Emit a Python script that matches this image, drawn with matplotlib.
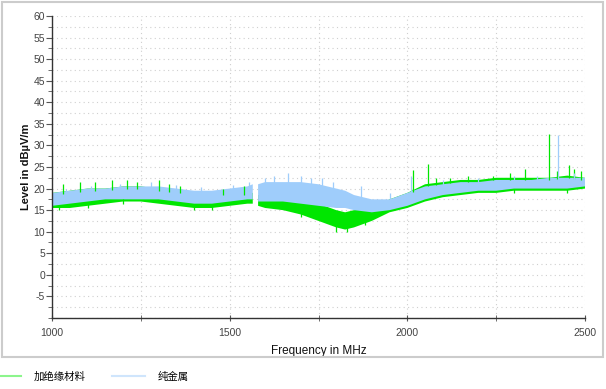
import numpy as np
import matplotlib
matplotlib.use("Agg")
import matplotlib.pyplot as plt
from matplotlib.lines import Line2D
from matplotlib.patches import Rectangle
from matplotlib.ticker import MultipleLocator

plt.rcParams['font.family'] = ['Liberation Sans', 'Noto Sans CJK SC', 'DejaVu Sans']
plt.rcParams['axes.unicode_minus'] = False

# ---- data ----
freq = [1000, 1050, 1100, 1150, 1200, 1250, 1300, 1350, 1400, 1450, 1500, 1550, 1565,
        1572,
        1580, 1600, 1650, 1700, 1750, 1800, 1825, 1850, 1900, 1950, 2000, 2050, 2100,
        2150, 2200, 2250, 2300, 2350, 2400, 2450, 2500]
nan = float('nan')
green_low = [15.5, 15.5, 16, 16.5, 17, 17, 16.5, 16, 15.5, 15.5, 16, 16.5, 16.5,
             nan,
             16, 15.5, 15, 14, 12.5, 11, 10.5, 11, 12.5, 14.5, 15.5, 17, 18,
             18.5, 19, 19, 19.5, 19.5, 19.5, 19.5, 20]
green_high = [19, 19.5, 20, 20, 20.5, 20.5, 20, 19.5, 19, 19, 19, 19, 19,
              nan,
              18.5, 18.5, 18, 17.5, 16.5, 15, 14.5, 15, 15.5, 17.5, 19, 21, 21.5,
              22, 22, 22.5, 22.5, 22.5, 22.5, 23, 22.5]
blue_low = [16, 16.5, 17, 17.5, 17.5, 17.5, 17.5, 17, 16.5, 16.5, 17, 17.5, 17.5,
            nan,
            17, 17, 17, 16.5, 16, 15.5, 15.5, 15, 14.5, 15, 16, 17.5, 18.5,
            19, 19.5, 19.5, 20, 20, 20, 20, 20.5]
blue_high = [19, 19.5, 20, 20, 20.5, 20.5, 20.5, 20, 19.5, 19.5, 20, 20.5, 21,
             nan,
             21, 21.5, 21.5, 21.5, 21, 20, 19.5, 18.5, 17.5, 17.5, 19, 20.5, 21,
             21.5, 21.5, 22, 22, 22, 22.5, 22.5, 22.5]

green_spike_f = [1030, 1080, 1120, 1170, 1210, 1240, 1300, 1330, 1360, 1480, 1540,
                 2016, 2058, 2080, 2120, 2170, 2240, 2290, 2330, 2398, 2420, 2455, 2470, 2490]
green_spike_top = [21, 21.5, 21.5, 22, 22, 21.5, 22, 21, 20.5, 20, 20.5,
                   24.2, 25.6, 22.5, 22.5, 23, 23, 23.5, 24.5, 32.6, 24, 25.5, 24.5, 24]
green_dip_f = [1020, 1100, 1200, 1400, 1450, 1700, 1800, 1830, 1880, 2300, 2450]
green_dip_bottom = [15, 15.5, 16.5, 15, 15, 13.5, 10, 10, 11.5, 19, 19]
blue_spike_f = [1040, 1110, 1190, 1280, 1350, 1420, 1510, 1555, 1600, 1625, 1665, 1700,
                1730, 1760, 1790, 1870, 1950, 2010, 2100, 2200, 2300, 2365, 2424, 2470]
blue_spike_top = [19.8, 20.7, 21, 21.5, 20.8, 20.3, 20.8, 21.5, 22.5, 23, 23.5, 23,
                  22.5, 22.5, 21.5, 20.5, 19, 23, 22, 22.5, 23, 23, 32.4, 23.5]

series_names = ['加绝缘材料', '纯金属']
green = '#00e600'
blue = '#9fcdfb'

fig = plt.figure(figsize=(6.06, 3.89), dpi=100)
ax = fig.add_axes([52/606, 1-318/389, (585-52)/606, (318-16)/389])

fa = np.array(freq, float)
ok = ~np.isnan(np.array(green_high, float))


def edge(values, at):
    v = np.array(values, float)
    return np.interp(at, fa[ok], v[ok])


ax.fill_between(freq, green_low, green_high, color=green, lw=0)
ax.vlines(green_spike_f, edge(green_high, green_spike_f) - 0.5, green_spike_top, color=green, lw=0.9)
ax.vlines(green_dip_f, green_dip_bottom, edge(green_low, green_dip_f) + 0.5, color=green, lw=0.9)
ax.fill_between(freq, blue_low, blue_high, color=blue, lw=0)
ax.vlines(blue_spike_f, edge(blue_high, blue_spike_f) - 0.5, blue_spike_top, color=blue, lw=0.9)

ax.set_xlim(1000, 2500)
ax.set_ylim(-10, 60)
ax.set_xticks([1000, 1500, 2000, 2500])
ax.xaxis.set_minor_locator(MultipleLocator(250))
ax.set_yticks(list(range(-5, 61, 5)))
ax.yaxis.set_minor_locator(MultipleLocator(2.5))
ax.grid(which='both', color='#cfcfcf', linestyle=(0, (1, 3)), lw=0.8)
ax.set_axisbelow(True)

for s in ['top', 'right']:
    ax.spines[s].set_visible(False)
for s in ['left', 'bottom']:
    ax.spines[s].set_color('#333333')
    ax.spines[s].set_linewidth(1)

ax.tick_params(axis='both', which='both', colors='#555555', labelcolor='#444444',
               labelsize=7.5)
ax.tick_params(axis='x', which='both', direction='inout', length=5)
ax.tick_params(axis='y', which='major', direction='out', length=4, pad=1)
ax.tick_params(axis='y', which='minor', direction='out', length=3)
ax.tick_params(axis='x', which='major', pad=5)

ax.set_xlabel('Frequency in MHz', fontsize=8.5, color='#111111', labelpad=5)
ax.set_ylabel('Level in dBµV/m', fontsize=8, fontweight='bold', color='#111111', labelpad=2)

fig.patches.append(Rectangle((2/606, 1-357/389), 601/606, 355/389, transform=fig.transFigure,
                             fill=False, edgecolor='#cccccc', lw=1.5))

handles = [Line2D([], [], color='#8cf58c', lw=1.5), Line2D([], [], color='#cfe5fc', lw=1.5)]
fig.legend(handles, series_names, loc='lower left', bbox_to_anchor=(-0.035, -0.005),
           ncol=2, frameon=False, fontsize=7.5, handlelength=3.2, columnspacing=2.5,
           handletextpad=1.2)

fig.savefig('out.png', dpi=100)
